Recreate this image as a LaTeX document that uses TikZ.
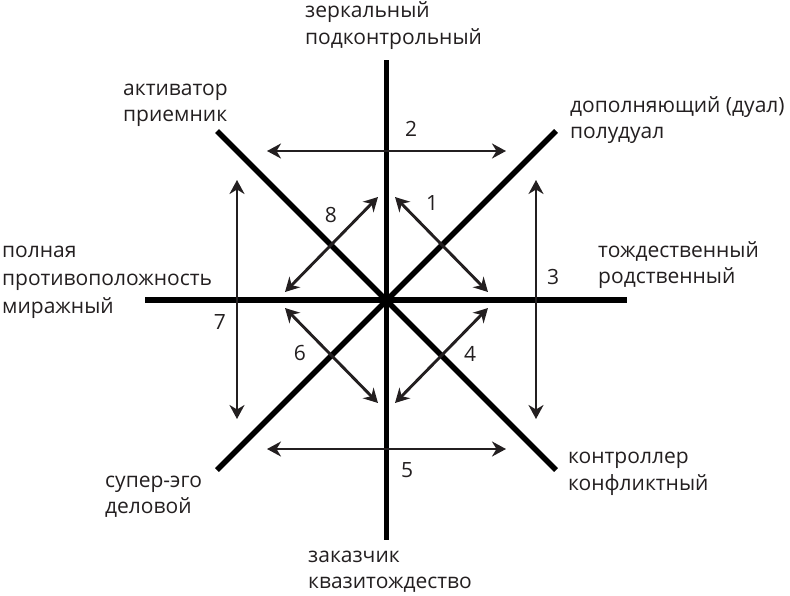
\documentclass[tikz,border=0pt]{standalone}
\usepackage{fontspec}
\setmainfont{Open Sans}
\usetikzlibrary{arrows.meta}
\definecolor{ink}{HTML}{231F20}
\tikzset{
  axisline/.style={line width=5.5pt, draw=black},
  relarrow/.style={line width=2.9pt, draw=ink, {Stealth[length=14pt,width=15pt,inset=4.5pt]}-{Stealth[length=14pt,width=15pt,inset=4.5pt]}},
  lbl/.style={anchor=base west, inner sep=0pt, text=ink, font=\fontsize{21}{25}\selectfont},
  num/.style={anchor=center, inner sep=0pt, text=ink, font=\fontsize{21}{25}\selectfont}
}
\begin{document}
\begin{tikzpicture}[x=1pt,y=-1pt]
\useasboundingbox (0,0) rectangle (790,595);
% axis end points
\coordinate (vt) at (386.5,60);
\coordinate (vb) at (386.5,540);
\coordinate (hl) at (145,300);
\coordinate (hr) at (627,300);
\coordinate (dul) at (217,131);
\coordinate (dlr) at (556,470);
\coordinate (dur) at (556,131);
\coordinate (dll) at (217,470);
\draw[axisline] (vt) -- (vb);
\draw[axisline] (hl) -- (hr);
\draw[axisline] (dul) -- (dlr);
\draw[axisline] (dur) -- (dll);
% arrow end points
\coordinate (a2l) at (267,151);
\coordinate (a2r) at (506,151);
\coordinate (a5l) at (267,449);
\coordinate (a5r) at (506,449);
\coordinate (a7t) at (237,180);
\coordinate (a7b) at (237,419);
\coordinate (a3t) at (536,180);
\coordinate (a3b) at (536,419);
\coordinate (a8a) at (285,292);
\coordinate (a8b) at (378,197);
\coordinate (a1a) at (395,197);
\coordinate (a1b) at (488,292);
\coordinate (a6a) at (285,308);
\coordinate (a6b) at (378,403);
\coordinate (a4a) at (488,308);
\coordinate (a4b) at (395,403);
\draw[relarrow] (a2l) -- (a2r);
\draw[relarrow] (a5l) -- (a5r);
\draw[relarrow] (a7t) -- (a7b);
\draw[relarrow] (a3t) -- (a3b);
\draw[relarrow] (a8a) -- (a8b);
\draw[relarrow] (a1a) -- (a1b);
\draw[relarrow] (a6a) -- (a6b);
\draw[relarrow] (a4a) -- (a4b);
% numbers
\node[num] (n2) at (411,129) {2};
\node[num] (n1) at (432,203) {1};
\node[num] (n8) at (331,215) {8};
\node[num] (n3) at (553,277) {3};
\node[num] (n7) at (220,322) {7};
\node[num] (n6) at (300,353) {6};
\node[num] (n4) at (470,354) {4};
\node[num] (n5) at (407,470) {5};
% labels
\node[lbl] (ltop1) at (305,17) {зеркальный};
\node[lbl] (ltop2) at (305,44) {подконтрольный};
\node[lbl] (lul1) at (123,95) {активатор};
\node[lbl] (lul2) at (123,121) {приемник};
\node[lbl] (lur1) at (570,112) {дополняющий (дуал)};
\node[lbl] (lur2) at (570,138) {полудуал};
\node[lbl] (lr1) at (598,257) {тождественный};
\node[lbl] (lr2) at (598,283) {родственный};
\node[lbl] (ll1) at (2,257) {полная};
\node[lbl] (ll2) at (2,285) {противоположность};
\node[lbl] (ll3) at (2,313) {миражный};
\node[lbl] (lll1) at (105,487) {супер-эго};
\node[lbl] (lll2) at (105,513) {деловой};
\node[lbl] (llr1) at (568,463) {контроллер};
\node[lbl] (llr2) at (568,490) {конфликтный};
\node[lbl] (lb1) at (308,562) {заказчик};
\node[lbl] (lb2) at (308,588) {квазитождество};
\end{tikzpicture}
\end{document}
